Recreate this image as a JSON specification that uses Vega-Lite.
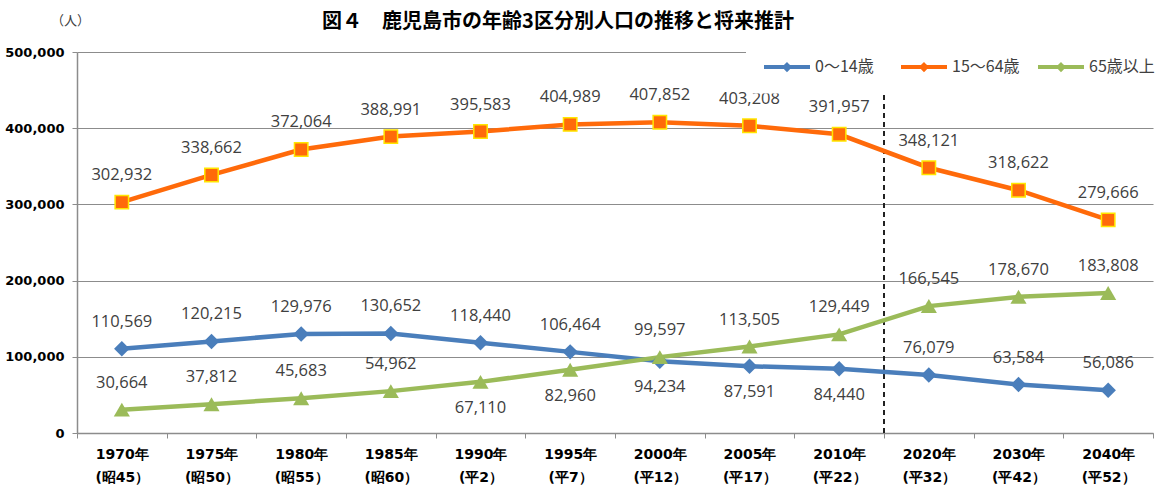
{
  "$schema": "https://vega.github.io/schema/vega-lite/v6.json",
  "autosize": "none",
  "width": 1076,
  "height": 381,
  "padding": {"left": 77, "top": 52, "right": 8, "bottom": 60},
  "background": "white",
  "title": {
    "text": "図４　鹿児島市の年齢3区分別人口の推移と将来推計",
    "font": "Noto Sans CJK JP",
    "fontSize": 20,
    "fontWeight": "bold",
    "color": "#000000",
    "anchor": "middle",
    "frame": "group",
    "dx": -57,
    "offset": 0,
    "dy": 18
  },
  "config": {
    "view": {"stroke": null},
    "font": "Noto Sans CJK JP"
  },
  "data": {
    "values": [
      {"period": "1970年(昭45）", "series": "0～14歳", "population": 110569},
      {"period": "1975年(昭50）", "series": "0～14歳", "population": 120215},
      {"period": "1980年(昭55）", "series": "0～14歳", "population": 129976},
      {"period": "1985年(昭60）", "series": "0～14歳", "population": 130652},
      {"period": "1990年(平2）", "series": "0～14歳", "population": 118440},
      {"period": "1995年(平7）", "series": "0～14歳", "population": 106464},
      {"period": "2000年(平12）", "series": "0～14歳", "population": 94234},
      {"period": "2005年(平17）", "series": "0～14歳", "population": 87591},
      {"period": "2010年(平22）", "series": "0～14歳", "population": 84440},
      {"period": "2020年(平32）", "series": "0～14歳", "population": 76079},
      {"period": "2030年(平42）", "series": "0～14歳", "population": 63584},
      {"period": "2040年(平52）", "series": "0～14歳", "population": 56086},
      {"period": "1970年(昭45）", "series": "15～64歳", "population": 302932},
      {"period": "1975年(昭50）", "series": "15～64歳", "population": 338662},
      {"period": "1980年(昭55）", "series": "15～64歳", "population": 372064},
      {"period": "1985年(昭60）", "series": "15～64歳", "population": 388991},
      {"period": "1990年(平2）", "series": "15～64歳", "population": 395583},
      {"period": "1995年(平7）", "series": "15～64歳", "population": 404989},
      {"period": "2000年(平12）", "series": "15～64歳", "population": 407852},
      {"period": "2005年(平17）", "series": "15～64歳", "population": 403208},
      {"period": "2010年(平22）", "series": "15～64歳", "population": 391957},
      {"period": "2020年(平32）", "series": "15～64歳", "population": 348121},
      {"period": "2030年(平42）", "series": "15～64歳", "population": 318622},
      {"period": "2040年(平52）", "series": "15～64歳", "population": 279666},
      {"period": "1970年(昭45）", "series": "65歳以上", "population": 30664},
      {"period": "1975年(昭50）", "series": "65歳以上", "population": 37812},
      {"period": "1980年(昭55）", "series": "65歳以上", "population": 45683},
      {"period": "1985年(昭60）", "series": "65歳以上", "population": 54962},
      {"period": "1990年(平2）", "series": "65歳以上", "population": 67110},
      {"period": "1995年(平7）", "series": "65歳以上", "population": 82960},
      {"period": "2000年(平12）", "series": "65歳以上", "population": 99597},
      {"period": "2005年(平17）", "series": "65歳以上", "population": 113505},
      {"period": "2010年(平22）", "series": "65歳以上", "population": 129449},
      {"period": "2020年(平32）", "series": "65歳以上", "population": 166545},
      {"period": "2030年(平42）", "series": "65歳以上", "population": 178670},
      {"period": "2040年(平52）", "series": "65歳以上", "population": 183808}
    ]
  },
  "encoding": {
    "x": {
      "field": "period",
      "type": "ordinal",
      "sort": null,
      "scale": {
        "domain": ["1970年(昭45）", "1975年(昭50）", "1980年(昭55）", "1985年(昭60）", "1990年(平2）", "1995年(平7）", "2000年(平12）", "2005年(平17）", "2010年(平22）", "2020年(平32）", "2030年(平42）", "2040年(平52）"],
        "paddingInner": 0,
        "paddingOuter": 0
      },
      "axis": {
        "title": null,
        "labelAngle": 0,
        "labelExpr": "[slice(datum.label, 0, 5), slice(datum.label, 5)]",
        "labelFont": "DejaVu Sans",
        "labelFontWeight": "bold",
        "labelFontSize": 14,
        "labelColor": "#000000",
        "labelLineHeight": 23,
        "labelPadding": 9,
        "tickBand": "extent",
        "tickSize": 5,
        "tickColor": "#8c8c8c",
        "domainColor": "#8c8c8c",
        "domainWidth": 1.5
      }
    },
    "y": {
      "field": "population",
      "type": "quantitative",
      "scale": {"domain": [0, 500000], "nice": false},
      "axis": {
        "values": [0, 100000, 200000, 300000, 400000, 500000],
        "format": ",d",
        "title": "（人）",
        "titleAngle": 0,
        "titleX": -7,
        "titleY": -32,
        "titleAlign": "center",
        "titleBaseline": "middle",
        "titleFont": "Noto Sans CJK JP",
        "titleFontSize": 13,
        "titleFontWeight": "normal",
        "titleColor": "#404040",
        "labelFont": "DejaVu Sans",
        "labelFontWeight": "bold",
        "labelFontSize": 13,
        "labelColor": "#000000",
        "labelPadding": 8,
        "tickSize": 5,
        "tickColor": "#8c8c8c",
        "domainColor": "#8c8c8c",
        "domainWidth": 1.5,
        "grid": true,
        "gridColor": "#8c8c8c",
        "gridWidth": 1.2
      }
    }
  },
  "layer": [
    {
      "mark": {"type": "rule", "color": "#222222", "strokeWidth": 1.5, "strokeDash": [5, 4]},
      "encoding": {
        "x": {"datum": "2020年(平32）", "bandPosition": 0},
        "y": {"datum": 0},
        "y2": {"datum": 455000}
      }
    },
    {
      "mark": {"type": "line", "strokeWidth": 4.5},
      "encoding": {
        "color": {
          "field": "series",
          "type": "nominal",
          "scale": {"domain": ["0～14歳", "15～64歳", "65歳以上"], "range": ["#4a7ebb", "#ff6a0a", "#9bbb59"]},
          "legend": {
            "title": null,
            "orient": "none",
            "direction": "horizontal",
            "legendX": 669,
            "legendY": -14.5,
            "padding": 16,
            "fillColor": "white",
            "symbolType": "M-1,0H3M1,-0.2L1.2,0L1,0.2L0.8,0Z",
            "symbolSize": 529,
            "symbolStrokeWidth": 4,
            "labelFont": "Noto Sans CJK JP",
            "labelFontSize": 16,
            "labelColor": "#404040",
            "labelOffset": 26,
            "gridAlign": "all",
            "columnPadding": 10
          }
        }
      }
    },
    {
      "transform": [{"filter": "datum.series == '0～14歳'"}],
      "mark": {"type": "point", "shape": "diamond", "filled": true, "opacity": 1, "size": 240, "color": "#4a7ebb"}
    },
    {
      "transform": [{"filter": "datum.series == '15～64歳'"}],
      "mark": {"type": "point", "shape": "square", "filled": true, "opacity": 1, "size": 180, "fill": "#ff6a0a", "stroke": "#ffe600", "strokeWidth": 1.5}
    },
    {
      "transform": [{"filter": "datum.series == '65歳以上'"}],
      "mark": {"type": "point", "shape": "triangle-up", "filled": true, "opacity": 1, "size": 260, "color": "#9bbb59"}
    },
    {
      "transform": [{"filter": "!((datum.series == '0～14歳' && (datum.period == '2000年(平12）' || datum.period == '2005年(平17）' || datum.period == '2010年(平22）')) || (datum.series == '65歳以上' && (datum.period == '1990年(平2）' || datum.period == '1995年(平7）')))"}],
      "mark": {"type": "text", "font": "Open Sans", "fontSize": 16.5, "color": "#404040", "baseline": "middle", "dy": -27},
      "encoding": {"text": {"field": "population", "type": "quantitative", "format": ",d"}}
    },
    {
      "transform": [{"filter": "(datum.series == '0～14歳' && (datum.period == '2000年(平12）' || datum.period == '2005年(平17）' || datum.period == '2010年(平22）')) || (datum.series == '65歳以上' && (datum.period == '1990年(平2）' || datum.period == '1995年(平7）'))"}],
      "mark": {"type": "text", "font": "Open Sans", "fontSize": 16.5, "color": "#404040", "baseline": "middle", "dy": 26},
      "encoding": {"text": {"field": "population", "type": "quantitative", "format": ",d"}}
    }
  ]
}
